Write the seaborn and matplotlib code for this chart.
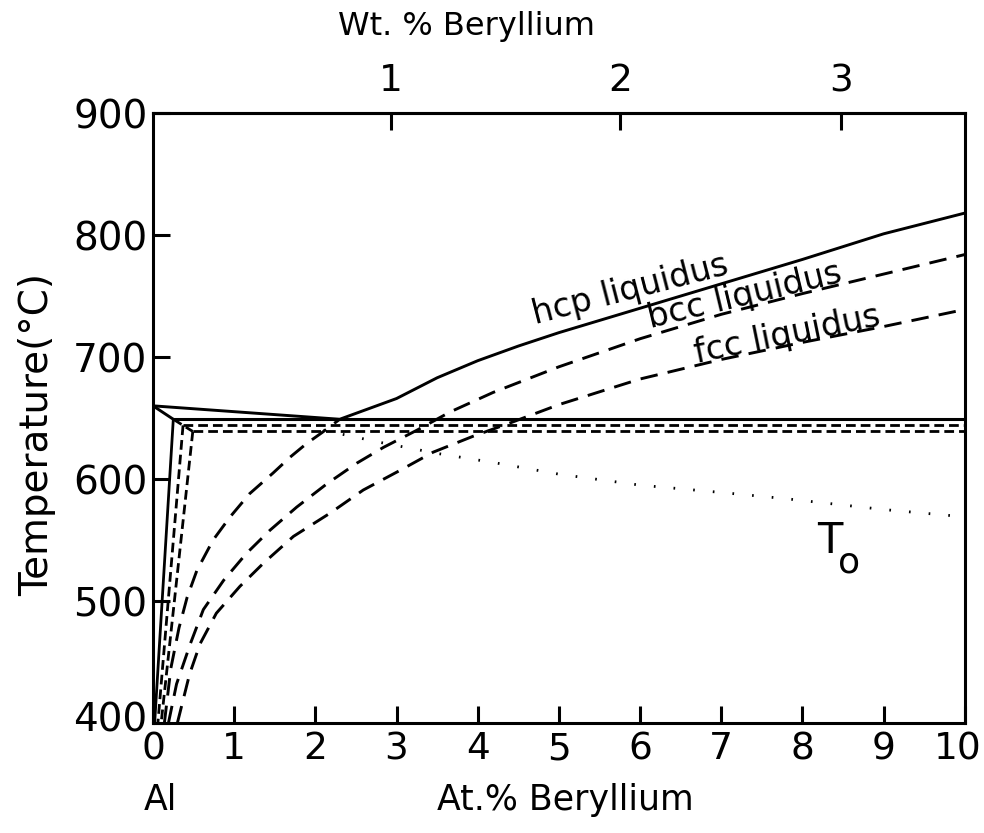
import numpy as np
import pandas as pd
import matplotlib
matplotlib.use("Agg")
import matplotlib.pyplot as plt
import matplotlib.transforms as mtransforms
import seaborn as sns

# ---------------- data ----------------
# hcp liquidus (solid), from Al melting point through the eutectic
hcp_x = [0.0, 2.3, 3.0, 3.5, 4.0, 4.5, 5.0, 6.0, 7.0, 8.0, 9.0, 10.0]
hcp_t = [660, 649, 666, 683, 697, 709, 720, 740, 760, 780, 801, 818]

# metastable extension of hcp liquidus below eutectic (long dash)
hcpx_x = [0.14, 0.22, 0.32, 0.42, 0.54, 0.74, 0.95, 1.19, 1.48, 1.69, 1.89, 2.08, 2.3]
hcpx_t = [400, 445, 478, 503, 525, 550, 569, 588, 605, 618, 629, 638, 649]

# bcc liquidus (long dash)
bcc_x = [0.19, 0.29, 0.46, 0.62, 0.87, 1.15, 1.44, 1.77, 2.14, 2.51, 2.84, 3.25,
         3.66, 4.19, 5.0, 6.0, 7.0, 8.0, 9.0, 10.0]
bcc_t = [400, 432, 465, 493, 517, 539, 558, 577, 596, 613, 626, 640,
         655, 671, 692, 715, 735, 752, 768, 784]

# fcc liquidus (long dash)
fcc_x = [0.3, 0.45, 0.58, 0.78, 1.07, 1.36, 1.73, 2.18, 2.59, 3.04, 3.45, 3.94,
         4.4, 5.0, 6.0, 7.0, 8.0, 9.0, 10.0]
fcc_t = [400, 440, 465, 490, 512, 531, 553, 572, 591, 607, 622, 635,
         646, 661, 682, 698, 712, 725, 739]

# eutectic horizontals
hcp_eut_x = [0.25, 10.0]
hcp_eut_t = [649, 649]
bcc_eut_x = [0.37, 10.0]
bcc_eut_t = [644, 644]
fcc_eut_x = [0.49, 10.0]
fcc_eut_t = [639, 639]

# retrograde solidus from the Al melting point
sol_x = [0.0, 0.25]
sol_t = [660, 649]
sol_ext_x = [0.25, 0.49]
sol_ext_t = [649, 639]

# steep solvus lines
hcp_solv_x = [0.25, 0.02]
hcp_solv_t = [649, 400]
bcc_solv_x = [0.37, 0.06]
bcc_solv_t = [644, 400]
fcc_solv_x = [0.49, 0.10]
fcc_solv_t = [639, 400]

# T0 curve (dotted)
t0_x = [2.1, 2.8, 3.5, 4.24, 5.0, 6.0, 7.0, 7.78, 9.0, 10.0]
t0_t = [640, 630, 621, 613, 604, 595, 589, 584, 575, 569]

x_ticks = [0, 1, 2, 3, 4, 5, 6, 7, 8, 9, 10]
y_ticks = [400, 500, 600, 700, 800, 900]
wt_ticks = [1, 2, 3]

# ---------------- plotting ----------------
sns.set_style("ticks")
plt.rcParams['font.family'] = ['DejaVu Sans']
plt.rcParams['text.color'] = 'black'

fig = plt.figure(figsize=(9.84, 8.33), dpi=100)
ax = fig.add_axes([0.1555, 0.132, 0.825, 0.7323])


def draw(xs, ts, dashes=None, lw=2.0):
    df = pd.DataFrame({"x": xs, "t": ts})
    sns.lineplot(data=df, x="x", y="t", ax=ax, color="black", lw=lw,
                 sort=False, estimator=None)
    ln = ax.lines[-1]
    if dashes is not None:
        ln.set_dashes(dashes)
    return ln


draw(hcp_x, hcp_t, lw=2.1)
draw(sol_x, sol_t, lw=2.1)
draw(hcp_eut_x, hcp_eut_t, lw=2.2)
draw(hcp_solv_x, hcp_solv_t, lw=2.0)

long_dash = (6, 3.5)
short_dash = (3.5, 1.8)
draw(hcpx_x, hcpx_t, dashes=long_dash, lw=2.1)
draw(bcc_x, bcc_t, dashes=long_dash, lw=2.1)
draw(fcc_x, fcc_t, dashes=long_dash, lw=2.1)

draw(bcc_eut_x, bcc_eut_t, dashes=short_dash, lw=2.0)
draw(fcc_eut_x, fcc_eut_t, dashes=short_dash, lw=2.0)
draw(sol_ext_x, sol_ext_t, dashes=short_dash, lw=2.0)
draw(bcc_solv_x, bcc_solv_t, dashes=short_dash, lw=2.0)
draw(fcc_solv_x, fcc_solv_t, dashes=short_dash, lw=2.0)

draw(t0_x, t0_t, dashes=(0.6, 6.5), lw=2.0)

ax.set_xlim(0, 10)
ax.set_ylim(400, 900)
ax.set_xticks(x_ticks)
ax.set_yticks(y_ticks)
ax.set_xticklabels([str(v) for v in x_ticks], fontsize=27)
ax.set_yticklabels([str(v) for v in y_ticks], fontsize=28)
ax.tick_params(axis="both", direction="in", length=12, width=2.2, pad=6,
               colors="black")
ax.tick_params(axis="y", pad=4)
for s in ax.spines.values():
    s.set_linewidth(2.2)
    s.set_color("black")
ax.set_xlabel("")
ax.set_ylabel("")

# nudge the end labels like in the reference
lab10 = ax.get_xticklabels()[-1]
lab10.set_transform(lab10.get_transform() +
                    mtransforms.ScaledTranslation(-5 / 72, 0, fig.dpi_scale_trans))
lab400 = ax.get_yticklabels()[0]
lab400.set_transform(lab400.get_transform() +
                     mtransforms.ScaledTranslation(0, 5 / 72, fig.dpi_scale_trans))

# top axis: weight % Be
M_BE, M_AL = 9.012, 26.98


def wt2at(w):
    w = np.asarray(w, dtype=float)
    nb = w / M_BE
    na = (100 - w) / M_AL
    return 100 * nb / (nb + na)


def at2wt(a):
    a = np.asarray(a, dtype=float)
    mb = a * M_BE
    ma = (100 - a) * M_AL
    return 100 * mb / (mb + ma)


sec = ax.secondary_xaxis("top", functions=(at2wt, wt2at))
sec.set_xticks(wt_ticks)
sec.set_xticklabels([str(v) for v in wt_ticks], fontsize=27)
sec.tick_params(direction="in", length=12, width=2.2, pad=10, colors="black")
sec.spines["top"].set_linewidth(2.2)

# texts
fig.text(0.474, 0.968, "Wt. % Beryllium", fontsize=23, ha="center",
         va="center", color="black")
fig.text(0.575, 0.040, "At.% Beryllium", fontsize=25, ha="center",
         va="center", color="black")
fig.text(0.163, 0.040, "Al", fontsize=25, ha="center", va="center",
         color="black")
fig.text(0.038, 0.478, "Temperature(°C)", fontsize=28, rotation=90,
         ha="center", va="center", color="black")

ax.text(5.88, 755, "hcp liquidus", fontsize=24, rotation=14.5, ha="center",
        va="center", color="black")
ax.text(7.29, 750, "bcc liquidus", fontsize=24, rotation=13.5, ha="center",
        va="center", color="black")
ax.text(7.81, 718, "fcc liquidus", fontsize=24, rotation=11.5, ha="center",
        va="center", color="black")
ax.text(8.34, 549, "T", fontsize=30, ha="center", va="center", color="black")
ax.text(8.58, 532, "o", fontsize=26, ha="center", va="center", color="black")

fig.savefig("out.png", dpi=100)
